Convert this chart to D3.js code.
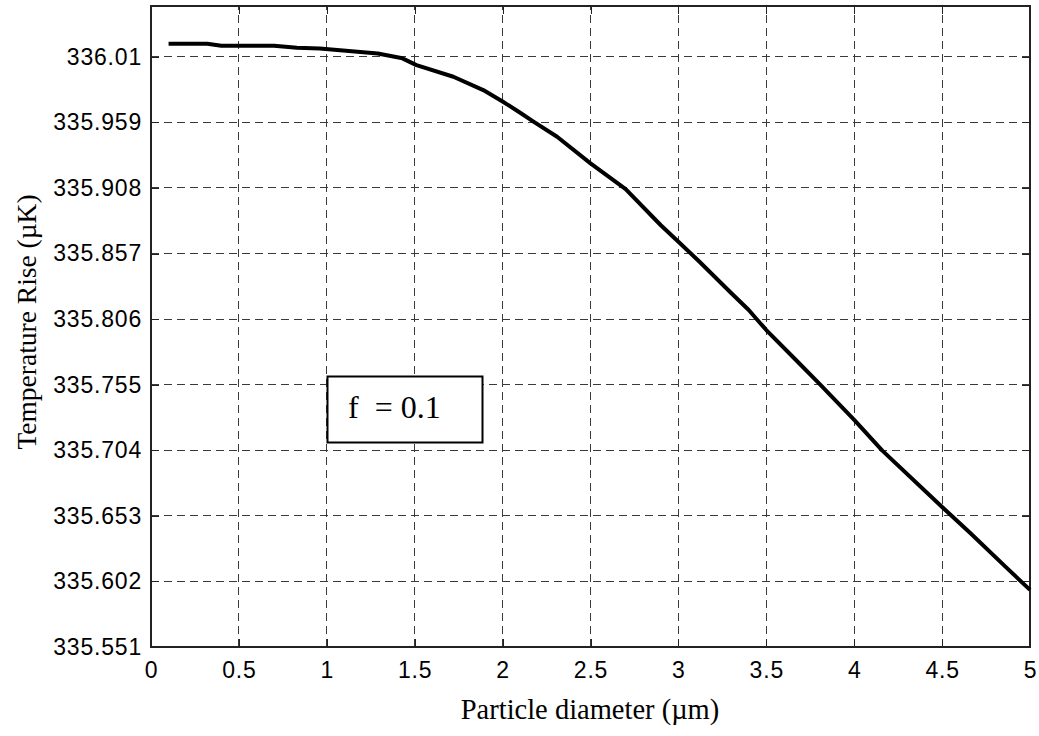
<!DOCTYPE html>
<html>
<head>
<meta charset="utf-8">
<script src="https://cdn.jsdelivr.net/npm/d3@7"></script>
<style>
  html, body { margin: 0; padding: 0; background: #fff; }
  svg { display: block; }
</style>
</head>
<body>
<svg id="chart" width="1039" height="736"></svg>
<script>
// Particle diameter (µm)
const diameter = [0.1, 0.32, 0.4, 0.7, 0.83, 0.96, 1.29, 1.43, 1.51, 1.72, 1.89, 2.0, 2.1, 2.18, 2.31,
  2.5, 2.7, 2.9, 3.0, 3.12, 3.3, 3.4, 3.5, 3.67, 3.8, 4.0, 4.16, 4.5, 4.66, 4.86, 5.0];
// Temperature rise (µK)
const tempRise = [336.0201, 336.0201, 336.0186, 336.0186, 336.0170, 336.0165, 336.0126, 336.0088, 336.0035,
  335.9945, 335.9841, 335.9752, 335.9665, 335.9592, 335.9478, 335.9271, 335.9071, 335.8790, 335.8662,
  335.8506, 335.8263, 335.8131, 335.7975, 335.7740, 335.7560, 335.7276, 335.7037, 335.6599, 335.6397,
  335.6135, 335.5954];

const xTicks = [0, 0.5, 1, 1.5, 2, 2.5, 3, 3.5, 4, 4.5, 5];
const xTickLabels = ["0", "0.5", "1", "1.5", "2", "2.5", "3", "3.5", "4", "4.5", "5"];
const yTicks = [335.551, 335.602, 335.653, 335.704, 335.755, 335.806, 335.857, 335.908, 335.959, 336.010];
const yTickLabels = ["335.551", "335.602", "335.653", "335.704", "335.755", "335.806", "335.857", "335.908", "335.959", "336.01"];
const xDomain = [0, 5];
const yDomain = [335.551, 336.0495];
const legendText = "f  = 0.1";

const svg = d3.select("#chart");
const m = { left: 151, right: 1030, top: 6, bottom: 647 };

const x = d3.scaleLinear().domain(xDomain).range([m.left, m.right]);
const y = d3.scaleLinear().domain(yDomain).range([m.bottom, m.top]);

// dashed grid
const grid = svg.append("g").attr("stroke", "#3a3a3a").attr("stroke-width", 1)
  .attr("stroke-dasharray", "8,5").attr("shape-rendering", "crispEdges");
grid.selectAll("line.v").data(xTicks.slice(1, -1)).join("line")
  .attr("x1", d => x(d)).attr("x2", d => x(d)).attr("y1", m.bottom).attr("y2", m.top);
grid.selectAll("line.h").data(yTicks.slice(1)).join("line")
  .attr("x1", m.left).attr("x2", m.right).attr("y1", d => y(d)).attr("y2", d => y(d));

// axes with inward ticks on all four sides
const tickFont = "'Liberation Sans', Arial, sans-serif";
const gx = svg.append("g").attr("transform", `translate(0,${m.bottom})`)
  .call(d3.axisBottom(x).tickValues(xTicks).tickSizeInner(-8).tickSizeOuter(0).tickPadding(15)
    .tickFormat((d, i) => xTickLabels[i]));
const gy = svg.append("g").attr("transform", `translate(${m.left},0)`)
  .call(d3.axisLeft(y).tickValues(yTicks).tickSizeInner(-8).tickSizeOuter(0).tickPadding(9)
    .tickFormat((d, i) => yTickLabels[i]));
const gt = svg.append("g").attr("transform", `translate(0,${m.top})`)
  .call(d3.axisTop(x).tickValues(xTicks).tickSizeInner(-8).tickSizeOuter(0).tickFormat(""));
const gr = svg.append("g").attr("transform", `translate(${m.right},0)`)
  .call(d3.axisRight(y).tickValues(yTicks).tickSizeInner(-8).tickSizeOuter(0).tickFormat(""));
[gx, gy, gt, gr].forEach(g => {
  g.select(".domain").remove();
  g.selectAll("line").attr("stroke", "#222").attr("shape-rendering", "crispEdges");
  g.selectAll("text").attr("font-family", tickFont).attr("font-size", 23)
    .attr("letter-spacing", "0.8px").attr("fill", "#000");
});

// frame
svg.append("rect").attr("x", m.left).attr("y", m.top)
  .attr("width", m.right - m.left).attr("height", m.bottom - m.top)
  .attr("fill", "none").attr("stroke", "#222").attr("stroke-width", 1.2)
  .attr("shape-rendering", "crispEdges");

// curve
const line = d3.line().x((d, i) => x(diameter[i])).y(d => y(d));
svg.append("path").datum(tempRise).attr("d", line)
  .attr("fill", "none").attr("stroke", "#000").attr("stroke-width", 4)
  .attr("stroke-linejoin", "round");

// axis titles
const titleFont = "'Liberation Serif', 'Times New Roman', serif";
svg.append("text").attr("x", 590).attr("y", 719)
  .attr("text-anchor", "middle").attr("font-family", titleFont)
  .attr("font-size", 28.5).text("Particle diameter (µm)");
svg.append("text").attr("transform", "translate(36,322) rotate(-90)")
  .attr("text-anchor", "middle").attr("font-family", titleFont)
  .attr("font-size", 27.5).text("Temperature Rise (µK)");

// annotation box
const legend = svg.append("g");
legend.append("rect").attr("x", 327.5).attr("y", 376.5).attr("width", 155).attr("height", 66)
  .attr("fill", "#fff").attr("stroke", "#000").attr("stroke-width", 2);
legend.append("text").attr("x", 348).attr("y", 418)
  .attr("font-family", titleFont).attr("font-size", 32)
  .style("white-space", "pre").text(legendText);
</script>
</body>
</html>
